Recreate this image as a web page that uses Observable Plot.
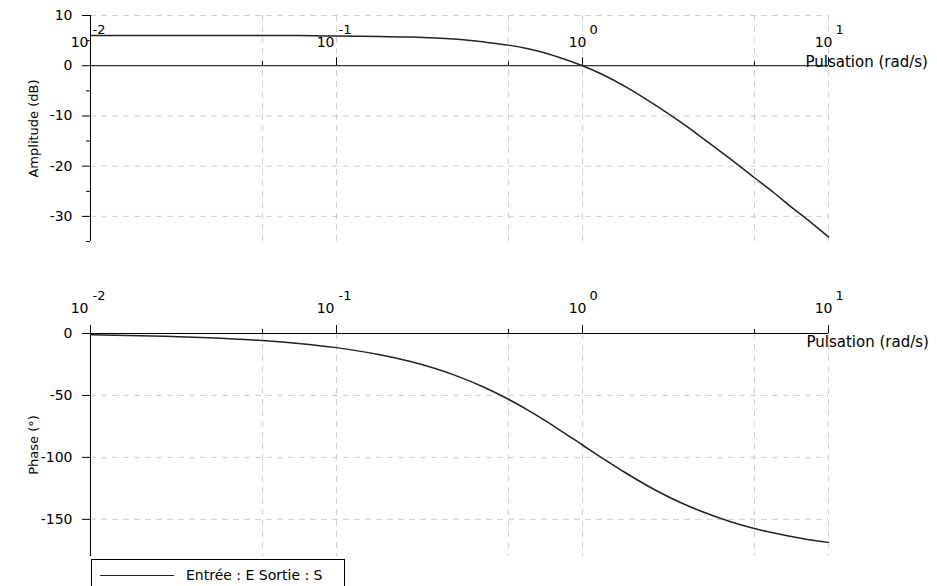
<!DOCTYPE html>
<html><head><meta charset="utf-8">
<script src="https://cdn.jsdelivr.net/npm/d3@7"></script>
<script src="https://cdn.jsdelivr.net/npm/@observablehq/plot@0.6"></script>
<style>
body{margin:0;background:#fff;font-family:"DejaVu Sans",sans-serif;}
#wrap{position:relative;width:937px;height:586px;overflow:hidden;background:#fff;}
#top,#bot{position:absolute;left:0;}
#top{top:0}
#bot{top:280px}
#legend{position:absolute;left:91px;top:559px;width:254px;height:40px;border:1px solid #000;background:#fff;box-sizing:border-box;}
#legend .sample{position:absolute;left:8px;top:15px;width:74px;height:0;border-top:1.5px solid #222;}
#legend .lbl{position:absolute;left:94px;top:7px;font-size:14px;color:#000;white-space:nowrap;}
</style></head><body>
<div id="wrap"><div id="top"></div><div id="bot"></div>
<div id="legend"><span class="sample"></span><span class="lbl">Entrée : E Sortie : S</span></div></div>
<script>
// Data
const pulsation = [0.01, 0.02, 0.03, 0.05, 0.07, 0.1, 0.15, 0.2, 0.3, 0.4, 0.5, 0.6, 0.7, 0.8, 1, 1.2, 1.5, 2, 2.5, 3, 4, 5, 6, 7, 8, 10];
const amplitudeDb = [6.0, 6.0, 6.0, 6.0, 6.0, 5.9, 5.8, 5.7, 5.3, 4.7, 4.1, 3.4, 2.6, 1.7, 0, -1.7, -4.2, -8.0, -11.2, -14.0, -18.6, -22.3, -25.3, -28.0, -30.2, -34.1];
const phaseDeg = [-1.1, -2.3, -3.4, -5.7, -8.0, -11.4, -17.1, -22.6, -33.4, -43.6, -53.1, -61.9, -70.0, -77.3, -90.0, -100.4, -112.6, -126.9, -136.4, -143.1, -151.9, -157.4, -161.1, -163.7, -165.8, -168.6];

const decades = [0.01, 0.1, 1, 10];
const decadeExponents = ["-2", "-1", "0", "1"];
const minorX = [0.05, 0.5, 5];
const gridXValues = [0.05, 0.1, 0.5, 1, 5, 10];
const ampTicks = [10, 0, -10, -20, -30];
const ampMinor = [5, -5, -15, -25, -35];
const ampGrid = [10, -10, -20, -30];
const phaseTicks = [0, -50, -100, -150];
const phaseGrid = [-50, -100, -150];
const xLabel = "Pulsation (rad/s)";
const ampLabel = "Amplitude (dB)";
const phaseLabel = "Phase (°)";

const ampData = pulsation.map((w, i) => ({w, v: amplitudeDb[i]}));
const phaseData = pulsation.map((w, i) => ({w, v: phaseDeg[i]}));
const decRows = decades.map((x, i) => ({x, e: decadeExponents[i]}));
const negRows = decRows.filter(r => r.e.startsWith("-"));
const posRows = decRows.filter(r => !r.e.startsWith("-"));

const gridStyle = {stroke: "#cfcfcf", strokeOpacity: 1, strokeDasharray: "6,5", strokeWidth: 1};

function decadeLabels(dy10, dyExp) {
  return [
    Plot.text(negRows, {x: "x", y: 0, text: () => "10", textAnchor: "end", dx: -2, dy: dy10, fontSize: 14}),
    Plot.text(negRows, {x: "x", y: 0, text: "e", textAnchor: "start", dx: 2, dy: dyExp, fontSize: 13}),
    Plot.text(posRows, {x: "x", y: 0, text: () => "10", textAnchor: "end", dx: 4, dy: dy10, fontSize: 14}),
    Plot.text(posRows, {x: "x", y: 0, text: "e", textAnchor: "start", dx: 7, dy: dyExp, fontSize: 13})
  ];
}
function xTicks() {
  return [
    Plot.ruleX(decades, {x: d => d, y1: 0, y2: 0, insetTop: -8, stroke: "#000"}),
    Plot.ruleX(minorX, {x: d => d, y1: 0, y2: 0, insetTop: -4, stroke: "#000"})
  ];
}
const fmt = d => String(d);
const style = {fontFamily: "DejaVu Sans", fontSize: "14px", background: "#fff", color: "#000", overflow: "visible"};

const topPlot = Plot.plot({
  width: 937, height: 260, marginTop: 15, marginBottom: 19, marginLeft: 90, marginRight: 109,
  x: {type: "log", domain: [0.01, 10], axis: null},
  y: {domain: [-35, 10]},
  style,
  marks: [
    Plot.gridX(gridXValues, gridStyle),
    Plot.gridY(ampGrid, gridStyle),
    Plot.ruleX([0.01], {stroke: "#000"}),
    Plot.ruleY([0], {stroke: "#000"}),
    Plot.axisY(ampTicks, {tickSize: 8, tickPadding: 10, fontSize: 14, tickFormat: fmt, label: null}),
    Plot.axisY(ampMinor, {tickSize: 4, tickFormat: () => "", label: null}),
    ...xTicks(),
    ...decadeLabels(-23, -36),
    Plot.text([xLabel], {x: 10, y: 0, text: d => d, textAnchor: "start", dx: -23, dy: -4, fontSize: 15}),
    Plot.text([ampLabel], {frameAnchor: "left", textAnchor: "middle", text: d => d, rotate: -90, dx: -57, fontSize: 13}),
    Plot.line(ampData, {x: "w", y: "v", curve: "monotone-x", stroke: "#222", strokeWidth: 1.5})
  ]
});
document.getElementById("top").appendChild(topPlot);

const botPlot = Plot.plot({
  width: 937, height: 290, marginTop: 53, marginBottom: 14, marginLeft: 90, marginRight: 109,
  x: {type: "log", domain: [0.01, 10], axis: null},
  y: {domain: [-180, 0]},
  style,
  marks: [
    Plot.gridX(gridXValues, gridStyle),
    Plot.gridY(phaseGrid, gridStyle),
    Plot.ruleX([0.01], {stroke: "#000"}),
    Plot.ruleY([0], {stroke: "#000"}),
    Plot.axisY(phaseTicks, {tickSize: 8, tickPadding: 10, fontSize: 14, tickFormat: fmt, label: null}),
    ...xTicks(),
    ...decadeLabels(-25, -38),
    Plot.text([xLabel], {x: 10, y: 0, text: d => d, textAnchor: "start", dx: -22, dy: 9, fontSize: 15}),
    Plot.text([phaseLabel], {frameAnchor: "left", textAnchor: "middle", text: d => d, rotate: -90, dx: -57, fontSize: 13}),
    Plot.line(phaseData, {x: "w", y: "v", curve: "monotone-x", stroke: "#222", strokeWidth: 1.5})
  ]
});
document.getElementById("bot").appendChild(botPlot);
</script>
</body></html>
